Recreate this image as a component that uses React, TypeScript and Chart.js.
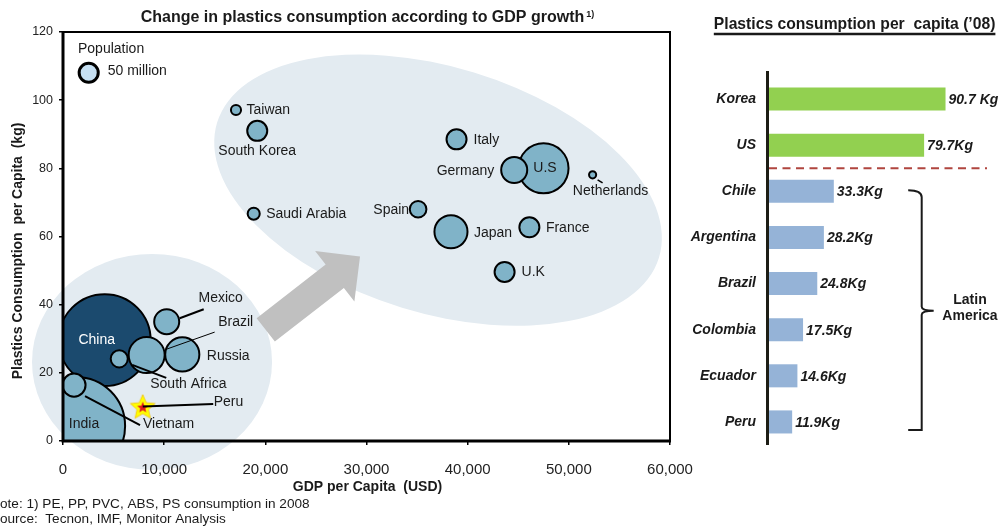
import React, { useEffect, useRef } from 'react';
import { Chart, registerables } from 'chart.js';

Chart.register(...registerables);

// ---------------- Bubble chart data (GDP vs plastics consumption) ----------------
const countries = ['China', 'India', 'Vietnam', 'Brazil', 'Russia', 'South Africa', 'Mexico', 'Saudi Arabia', 'Taiwan', 'South Korea', 'Spain', 'Japan', 'Italy', 'U.S', 'Germany', 'France', 'U.K', 'Netherlands'];
const gdpPerCapita = [4120, 1290, 1090, 8270, 11790, 5560, 10250, 18850, 17100, 19200, 35100, 38350, 38900, 47500, 44600, 46100, 43650, 52350];
const plasticsPerCapita = [29.6, 4.4, 16.4, 25.2, 25.4, 24.1, 35.0, 66.7, 97.1, 91.0, 68.0, 61.4, 88.5, 80.0, 79.5, 62.7, 49.6, 78.1];
const populationMillions = [1160, 1320, 73, 178, 160, 40, 86, 20, 14, 55, 38, 150, 55, 343, 93, 55, 55, 7];

const highlightCountry = 'Peru';
const highlightGdp = [7880];
const highlightPlastics = [10.1];
const legendPopulation = 50;

const xTicks = [0, 10000, 20000, 30000, 40000, 50000, 60000];
const yTicks = [0, 20, 40, 60, 80, 100, 120];

// ---------------- Bar chart data (plastics consumption per capita '08) ----------------
const barCountries = ['Korea', 'US', 'Chile', 'Argentina', 'Brazil', 'Colombia', 'Ecuador', 'Peru'];
const barValues = [90.7, 79.7, 33.3, 28.2, 24.8, 17.5, 14.6, 11.9];
const barUnits = [' Kg', 'Kg', 'Kg', 'Kg', 'Kg', 'Kg', 'Kg', 'Kg'];
const barRegions = ['Benchmark', 'Benchmark', 'Latin America', 'Latin America', 'Latin America', 'Latin America', 'Latin America', 'Latin America'];

// ---------------- Styles ----------------
const FONT = "'Liberation Sans', Arial, sans-serif";
const TEXT = '#1a1a1a';
const BUBBLE_FILL = '#80b3c8';
const CHINA_FILL = '#1b4a6e';
const CLUSTER_FILL = '#e3ebf1';

const bubbleRadius = (pop: number) => 1.35 * Math.sqrt(pop);

type Lay = { dx: number; dy: number; align: CanvasTextAlign; color?: string; line?: number[]; lw?: number };
const labelLayout: Record<string, Lay> = {
  China: { dx: -8, dy: 0, align: 'center', color: '#ffffff' },
  India: { dx: 8, dy: -2, align: 'center' },
  Vietnam: { dx: 69, dy: 39, align: 'left', line: [11, 11, 66, 40], lw: 2 },
  Brazil: { dx: 89, dy: -33, align: 'center', line: [20, -6, 68, -23], lw: 1 },
  Russia: { dx: 24.5, dy: 1.5, align: 'left' },
  'South Africa': { dx: 31, dy: 25, align: 'left', line: [13, 6, 47, 19], lw: 2 },
  Mexico: { dx: 54, dy: -24, align: 'center', line: [13, -3.5, 37, -12.5], lw: 2 },
  'Saudi Arabia': { dx: 12.5, dy: 0, align: 'left' },
  Taiwan: { dx: 10.5, dy: 0, align: 'left' },
  'South Korea': { dx: 0, dy: 20.5, align: 'center' },
  Spain: { dx: -9, dy: 1, align: 'right' },
  Japan: { dx: 23, dy: 1, align: 'left' },
  Italy: { dx: 17, dy: 1, align: 'left' },
  'U.S': { dx: 1.5, dy: 0, align: 'center' },
  Germany: { dx: -20, dy: 1, align: 'right' },
  France: { dx: 16.5, dy: 1, align: 'left' },
  'U.K': { dx: 17, dy: 0, align: 'left' },
  Netherlands: { dx: 18, dy: 16, align: 'center', line: [5, 5, 10, 8], lw: 1.5 },
};
const highlightLayout: Lay = { dx: 71, dy: -4, align: 'left', line: [0, 0, 70.5, -2.5], lw: 2 };

function makeStar(): HTMLCanvasElement {
  const c = document.createElement('canvas');
  c.width = 28;
  c.height = 28;
  const ctx = c.getContext('2d')!;
  const star = (cx: number, cy: number, ro: number, ri: number) => {
    ctx.beginPath();
    for (let k = 0; k < 10; k++) {
      const a = -Math.PI / 2 + (k * Math.PI) / 5;
      const r = k % 2 === 0 ? ro : ri;
      ctx.lineTo(cx + r * Math.cos(a), cy + r * Math.sin(a));
    }
    ctx.closePath();
  };
  star(14, 15, 13, 6);
  ctx.fillStyle = '#ffff00';
  ctx.fill();
  ctx.strokeStyle = '#f2c200';
  ctx.lineWidth = 0.8;
  ctx.stroke();
  star(14, 15, 6, 2.6);
  ctx.fillStyle = '#e3161c';
  ctx.fill();
  return c;
}

const drawLabel = (ctx: CanvasRenderingContext2D, text: string, px: number, py: number, lay: Lay) => {
  if (lay.line) {
    ctx.beginPath();
    ctx.strokeStyle = '#000';
    ctx.lineWidth = lay.lw || 1.5;
    ctx.moveTo(px + lay.line[0], py + lay.line[1]);
    ctx.lineTo(px + lay.line[2], py + lay.line[3]);
    ctx.stroke();
  }
  ctx.fillStyle = lay.color || TEXT;
  ctx.textAlign = lay.align;
  ctx.textBaseline = 'middle';
  ctx.font = `14px ${FONT}`;
  ctx.fillText(text, px + lay.dx, py + lay.dy);
};

const bubbleDecor = {
  id: 'bubbleDecor',
  beforeDraw(chart: any) {
    const { ctx } = chart;
    const x = chart.scales.x;
    const y = chart.scales.y;
    ctx.save();
    ctx.fillStyle = CLUSTER_FILL;
    ctx.beginPath();
    ctx.ellipse(x.getPixelForValue(8800), y.getPixelForValue(23.2), 120, 108, 0, 0, Math.PI * 2);
    ctx.fill();
    ctx.beginPath();
    ctx.ellipse(x.getPixelForValue(37070), y.getPixelForValue(73.6), 231, 123, (17 * Math.PI) / 180, 0, Math.PI * 2);
    ctx.fill();
    // growth arrow
    const tx = x.getPixelForValue(20040), ty = y.getPixelForValue(32.6);
    const hx = x.getPixelForValue(29360), hy = y.getPixelForValue(54.1);
    const L = Math.hypot(hx - tx, hy - ty);
    const ux = (hx - tx) / L, uy = (hy - ty) / L;
    const nx = -uy, ny = ux;
    const shaft = 14.85, head = 32, headLen = 32;
    const bx = hx - ux * headLen, by = hy - uy * headLen;
    ctx.fillStyle = '#c0c0c0';
    ctx.beginPath();
    ctx.moveTo(tx + nx * shaft, ty + ny * shaft);
    ctx.lineTo(bx + nx * shaft, by + ny * shaft);
    ctx.lineTo(bx + nx * head, by + ny * head);
    ctx.lineTo(hx, hy);
    ctx.lineTo(bx - nx * head, by - ny * head);
    ctx.lineTo(bx - nx * shaft, by - ny * shaft);
    ctx.lineTo(tx - nx * shaft, ty - ny * shaft);
    ctx.closePath();
    ctx.fill();
    ctx.restore();
  },
  afterDatasetsDraw(chart: any) {
    const { ctx, chartArea } = chart;
    const { left, right, top, bottom } = chartArea;
    ctx.save();
    // labels and leader lines
    const meta = chart.getDatasetMeta(0);
    countries.forEach((c, i) => {
      const el = meta.data[i];
      drawLabel(ctx, c, el.x, el.y, labelLayout[c]);
    });
    const hm = chart.getDatasetMeta(1);
    drawLabel(ctx, highlightCountry, hm.data[0].x, hm.data[0].y, highlightLayout);

    // frame
    ctx.strokeStyle = '#000';
    ctx.lineWidth = 2;
    ctx.beginPath();
    ctx.moveTo(left, top);
    ctx.lineTo(right, top);
    ctx.lineTo(right, bottom);
    ctx.stroke();
    ctx.lineWidth = 3;
    ctx.beginPath();
    ctx.moveTo(left, top - 1);
    ctx.lineTo(left, bottom);
    ctx.lineTo(right + 1, bottom);
    ctx.stroke();

    // population legend
    ctx.fillStyle = TEXT;
    ctx.font = `14px ${FONT}`;
    ctx.textAlign = 'left';
    ctx.textBaseline = 'middle';
    ctx.fillText('Population', left + 15, top + 17);
    ctx.beginPath();
    ctx.arc(left + 25.7, top + 40.7, bubbleRadius(legendPopulation), 0, Math.PI * 2);
    ctx.fillStyle = '#c6e0f3';
    ctx.fill();
    ctx.lineWidth = 3;
    ctx.stroke();
    ctx.fillStyle = TEXT;
    ctx.fillText(`${legendPopulation} million`, left + 44.7, top + 38.7);

    // title
    const title = 'Change in plastics consumption according to GDP growth';
    ctx.font = `bold 16px ${FONT}`;
    const tw = ctx.measureText(title).width;
    ctx.font = `bold 9px ${FONT}`;
    const sw = ctx.measureText('1)').width;
    const tx0 = (left + right) / 2 + 1 - (tw + sw + 2) / 2;
    ctx.font = `bold 16px ${FONT}`;
    ctx.fillText(title, tx0, 17.5);
    ctx.font = `bold 9px ${FONT}`;
    ctx.fillText('1)', tx0 + tw + 2, 15);

    // axis titles
    ctx.font = `bold 14px ${FONT}`;
    ctx.textAlign = 'center';
    ctx.fillText('GDP per Capita  (USD)', (left + right) / 2 + 1, 487);
    ctx.save();
    ctx.translate(18.5, 251);
    ctx.rotate(-Math.PI / 2);
    ctx.fillText('Plastics Consumption  per Capita  (kg)', 0, 0);
    ctx.restore();

    // notes
    ctx.font = `13.6px ${FONT}`;
    ctx.textAlign = 'left';
    ctx.fillText('Note: 1) PE, PP, PVC, ABS, PS consumption in 2008', -9.8, 504);
    ctx.fillText('Source:  Tecnon, IMF, Monitor Analysis', -9.1, 519.5);
    ctx.restore();
  },
};

const barDecor = {
  id: 'barDecor',
  afterDatasetsDraw(chart: any) {
    const { ctx, chartArea } = chart;
    const { left, right, top, bottom } = chartArea;
    const y = chart.scales.y;
    ctx.save();
    // axis line
    ctx.strokeStyle = '#1d1d15';
    ctx.lineWidth = 3;
    ctx.beginPath();
    ctx.moveTo(left - 1.5, top - 5);
    ctx.lineTo(left - 1.5, bottom);
    ctx.stroke();

    // value labels
    const meta = chart.getDatasetMeta(0);
    ctx.font = `italic bold 14px ${FONT}`;
    ctx.fillStyle = TEXT;
    ctx.textAlign = 'left';
    ctx.textBaseline = 'middle';
    meta.data.forEach((el: any, i: number) => {
      ctx.fillText(`${barValues[i]}${barUnits[i]}`, el.x + 3, el.y + 1);
    });

    // separator between benchmark and Latin America
    const firstLatin = barRegions.indexOf('Latin America');
    const sepY = (y.getPixelForValue(firstLatin - 1) + y.getPixelForValue(firstLatin)) / 2;
    ctx.strokeStyle = '#b0453f';
    ctx.lineWidth = 2;
    ctx.setLineDash([8, 5.5]);
    ctx.beginPath();
    ctx.moveTo(left, sepY);
    ctx.lineTo(right + 37, sepY);
    ctx.stroke();
    ctx.setLineDash([]);

    // bracket
    const bTop = y.getPixelForValue(firstLatin);
    const bBot = y.getPixelForValue(barCountries.length - 1) + 8;
    const mid = (bTop + bBot) / 2;
    const bx = right - 28.3;
    ctx.strokeStyle = '#1a1a1a';
    ctx.lineWidth = 2;
    ctx.beginPath();
    ctx.moveTo(bx - 13.5, bTop - 1);
    ctx.quadraticCurveTo(bx, bTop - 1, bx, bTop + 6);
    ctx.lineTo(bx, mid - 4);
    ctx.quadraticCurveTo(bx, mid, bx + 12, mid);
    ctx.quadraticCurveTo(bx, mid, bx, mid + 4);
    ctx.lineTo(bx, bBot);
    ctx.lineTo(bx - 13.5, bBot);
    ctx.stroke();
    ctx.font = `bold 14px ${FONT}`;
    ctx.textAlign = 'center';
    ctx.fillText('Latin', right + 20, mid - 10);
    ctx.fillText('America', right + 20, mid + 6);

    // title
    const title = 'Plastics consumption per  capita (\u201908)';
    ctx.font = `bold 15.7px ${FONT}`;
    const tw = ctx.measureText(title).width;
    const cx = 174.6;
    ctx.fillText(title, cx, 25);
    ctx.lineWidth = 2.5;
    ctx.beginPath();
    ctx.moveTo(cx - tw / 2, 34);
    ctx.lineTo(cx + tw / 2, 34);
    ctx.stroke();
    ctx.restore();
  },
};

export default function App() {
  const leftRef = useRef<HTMLCanvasElement>(null);
  const rightRef = useRef<HTMLCanvasElement>(null);

  useEffect(() => {
    const star = makeStar();
    const tickFont = { family: FONT, size: 15 };
    const bubble = new Chart(leftRef.current!, {
      type: 'bubble',
      data: {
        datasets: [
          {
            data: countries.map((c, i) => ({ x: gdpPerCapita[i], y: plasticsPerCapita[i], r: bubbleRadius(populationMillions[i]) })),
            backgroundColor: countries.map((c) => (c === 'China' ? CHINA_FILL : BUBBLE_FILL)),
            borderColor: '#000',
            borderWidth: 2,
            clip: 0,
          } as any,
          {
            data: highlightGdp.map((g, i) => ({ x: g, y: highlightPlastics[i], r: 12 })),
            pointStyle: star,
            backgroundColor: '#ffff00',
            borderWidth: 0,
            clip: 0,
          } as any,
        ],
      },
      options: {
        animation: false,
        responsive: false,
        maintainAspectRatio: false,
        events: [],
        layout: { autoPadding: false, padding: { top: 32, left: 0, right: 40, bottom: 0 } },
        plugins: { legend: { display: false }, tooltip: { enabled: false }, title: { display: false } },
        scales: {
          x: {
            type: 'linear',
            min: xTicks[0],
            max: xTicks[xTicks.length - 1],
            afterBuildTicks: (s: any) => {
              s.ticks = xTicks.map((v) => ({ value: v }));
            },
            ticks: {
              callback: (v: any) => Number(v).toLocaleString('en-US'),
              font: tickFont,
              color: '#222',
              padding: 16,
              maxRotation: 0,
              autoSkip: false,
            },
            grid: { display: true, drawOnChartArea: false, drawTicks: true, tickLength: 4, color: '#000', lineWidth: 1.5 },
            border: { display: false },
            afterFit: (s: any) => {
              s.height = 90;
            },
          },
          y: {
            type: 'linear',
            min: yTicks[0],
            max: yTicks[yTicks.length - 1],
            afterBuildTicks: (s: any) => {
              s.ticks = yTicks.map((v) => ({ value: v }));
            },
            ticks: { font: { family: FONT, size: 12.5 }, color: '#222', padding: 6 },
            grid: { display: true, drawOnChartArea: false, drawTicks: true, tickLength: 4, color: '#000', lineWidth: 1.5 },
            border: { display: false },
            afterFit: (s: any) => {
              s.width = 63;
            },
          },
        },
      } as any,
      plugins: [bubbleDecor],
    });

    const bars = new Chart(rightRef.current!, {
      type: 'bar',
      data: {
        labels: barCountries,
        datasets: [
          {
            data: barValues,
            backgroundColor: barRegions.map((r) => (r === 'Latin America' ? '#95b3d7' : '#92d050')),
            borderWidth: 0,
            categoryPercentage: 1,
            barPercentage: 0.5,
          },
        ],
      },
      options: {
        indexAxis: 'y',
        animation: false,
        responsive: false,
        maintainAspectRatio: false,
        events: [],
        layout: { autoPadding: false, padding: { top: 76, bottom: 86, left: 0, right: 50 } },
        plugins: { legend: { display: false }, tooltip: { enabled: false } },
        scales: {
          x: { display: false, min: 0, max: 93 },
          y: {
            grid: { display: false, drawTicks: false },
            border: { display: false },
            ticks: { padding: 13, color: TEXT, font: { family: FONT, size: 14, style: 'italic', weight: 'bold' } },
            afterFit: (s: any) => {
              s.width = 89;
            },
          },
        },
      } as any,
      plugins: [barDecor],
    });

    return () => {
      bubble.destroy();
      bars.destroy();
    };
  }, []);

  return (
    <div style={{ position: 'fixed', left: 0, top: 0, width: 1000, height: 531, background: '#ffffff', overflow: 'hidden' }}>
      <canvas ref={leftRef} width={710} height={531} style={{ position: 'absolute', left: 0, top: 0, width: 710, height: 531 }} />
      <canvas ref={rightRef} width={320} height={531} style={{ position: 'absolute', left: 680, top: 0, width: 320, height: 531 }} />
    </div>
  );
}
